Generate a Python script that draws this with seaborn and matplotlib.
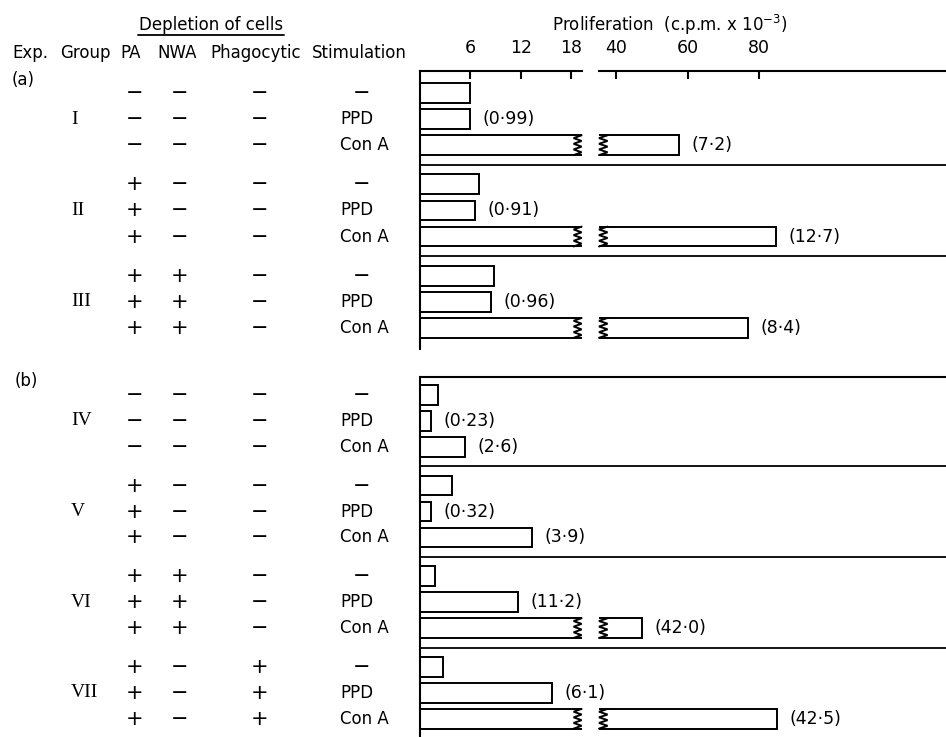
import numpy as np
import pandas as pd
import seaborn as sns
import matplotlib
matplotlib.use("Agg")
import matplotlib.pyplot as plt
from matplotlib import transforms

# ---------------- data ----------------
groups_a = ["I", "II", "III"]
groups_b = ["IV", "V", "VI", "VII"]
stimulation = ["\u2212", "PPD", "Con A"]

depl_pa = {"I": "\u2212", "II": "+", "III": "+", "IV": "\u2212", "V": "+", "VI": "+", "VII": "+"}
depl_nwa = {"I": "\u2212", "II": "\u2212", "III": "+", "IV": "\u2212", "V": "\u2212", "VI": "+", "VII": "\u2212"}
depl_phag = {"I": "\u2212", "II": "\u2212", "III": "\u2212", "IV": "\u2212", "V": "\u2212", "VI": "\u2212", "VII": "+"}

# proliferation (c.p.m. x 10^-3) for stimulation: none, PPD, Con A
prolif = {
    "I": [6.0, 6.0, 57.6],
    "II": [7.0, 6.6, 84.7],
    "III": [8.8, 8.4, 76.8],
    "IV": [2.1, 1.3, 5.4],
    "V": [3.8, 1.3, 13.3],
    "VI": [1.8, 11.7, 47.2],
    "VII": [2.7, 15.7, 85.0],
}
# stimulation indices
si_ppd = {"I": "0\u00b799", "II": "0\u00b791", "III": "0\u00b796", "IV": "0\u00b723",
          "V": "0\u00b732", "VI": "11\u00b72", "VII": "6\u00b71"}
si_cona = {"I": "7\u00b72", "II": "12\u00b77", "III": "8\u00b74", "IV": "2\u00b76",
           "V": "3\u00b79", "VI": "42\u00b70", "VII": "42\u00b75"}

ticks_left = [6, 12, 18]
ticks_right = [40, 60, 80]

# ---------------- layout ----------------
W, H = 946, 737
GROUP_STEP = 3.5
BREAK_LO = 19.3
BREAK_HI = 35.1
XMAX_R = 132.4
BAR_W = 0.76

sns.set_style("white")
plt.rcParams["font.family"] = ["DejaVu Sans"]
plt.rcParams["axes.linewidth"] = 1.5
plt.rcParams["text.color"] = "black"
plt.rcParams["axes.labelcolor"] = "black"
plt.rcParams["xtick.color"] = "black"
plt.rcParams["axes.edgecolor"] = "black"

fig = plt.figure(figsize=(W / 100, H / 100), dpi=100)


def fx(px):
    return px / W


def fy(py):
    return 1 - py / H


def make_panel(top_px, bot_px):
    axl = fig.add_axes([fx(420), fy(bot_px), fx(582) - fx(420), (bot_px - top_px) / H])
    axr = fig.add_axes([fx(599), fy(bot_px), fx(946) - fx(599), (bot_px - top_px) / H])
    for a in (axl, axr):
        a.set_facecolor("none")
    return axl, axr


def build_df(groups):
    rows = []
    for gi, g in enumerate(groups):
        for ri, s in enumerate(stimulation):
            rows.append({"group": g, "stim": s, "pos": gi * GROUP_STEP + ri,
                         "value": prolif[g][ri]})
    return pd.DataFrame(rows)


def zigzag(ax, x0, x1, yc, h):
    n = 7
    ys = np.linspace(yc - h / 2, yc + h / 2, n + 1)
    xs = np.where(np.arange(n + 1) % 2 == 0, x1, x0)
    ax.plot(xs, ys, color="black", lw=1.4, clip_on=False, solid_joinstyle="miter")


def draw_panel(groups, top_px, bot_px, ylim, with_ticks):
    axl, axr = make_panel(top_px, bot_px)
    df = build_df(groups)
    for ax in (axl, axr):
        sns.barplot(data=df, x="value", y="pos", orient="h", native_scale=True,
                    color="white", saturation=1, edgecolor="black", linewidth=1.4,
                    width=BAR_W, errorbar=None, ax=ax)
        ax.set_ylim(*ylim)
        ax.set_xlabel("")
        ax.set_ylabel("")
        ax.set_yticks([])
        for sp in ("right", "bottom"):
            ax.spines[sp].set_visible(False)
    axl.set_xlim(0, BREAK_LO)
    axr.set_xlim(BREAK_HI, XMAX_R)
    axr.spines["left"].set_visible(False)
    span = (946 - 420) / 162
    if with_ticks:
        for ax, tk in ((axl, ticks_left), (axr, ticks_right)):
            ax.xaxis.tick_top()
            ax.set_xticks(tk)
            ax.set_xticklabels([str(t) for t in tk])
            ax.tick_params(axis="x", direction="in", length=6, width=1.5, pad=10,
                           labelsize=12.5, colors="black")
    else:
        axl.set_xticks([])
        axr.set_xticks([])
        axl.axhline(ylim[1], xmin=0, xmax=span, color="black", lw=1.5, clip_on=False)
        axr.spines["top"].set_visible(False)
        axl.spines["top"].set_visible(False)

    # separators between groups
    for gi in range(len(groups) - 1):
        ysep = gi * GROUP_STEP + 2 + (GROUP_STEP - 2) / 2
        axl.axhline(ysep, xmin=0, xmax=span, color="black", lw=1.3, clip_on=False)

    # broken bars & annotations
    for _, r in df.iterrows():
        v, p = r["value"], r["pos"]
        if v > BREAK_LO:
            zigzag(axl, 18.3, 19.25, p, BAR_W)
            zigzag(axr, BREAK_HI, BREAK_HI + 2.4, p, BAR_W)
            target = axr
        else:
            target = axl
        if r["stim"] == "PPD":
            lab = si_ppd[r["group"]]
        elif r["stim"] == "Con A":
            lab = si_cona[r["group"]]
        else:
            lab = None
        if lab:
            target.annotate(f"({lab})", xy=(v, p), xytext=(9, 0), textcoords="offset points",
                            ha="left", va="center", fontsize=12.5, color="black",
                            annotation_clip=False)

    # table on the left
    tr = transforms.blended_transform_factory(fig.transFigure, axl.transData)
    fs_sym = 15
    for gi, g in enumerate(groups):
        for ri, s in enumerate(stimulation):
            p = gi * GROUP_STEP + ri
            fig.text(fx(135), p, depl_pa[g], transform=tr, ha="center", va="center", fontsize=fs_sym)
            fig.text(fx(180), p, depl_nwa[g], transform=tr, ha="center", va="center", fontsize=fs_sym)
            fig.text(fx(260), p, depl_phag[g], transform=tr, ha="center", va="center", fontsize=fs_sym)
            if s == "\u2212":
                fig.text(fx(362), p, s, transform=tr, ha="center", va="center", fontsize=fs_sym)
            else:
                fig.text(fx(340), p, s, transform=tr, ha="left", va="center", fontsize=12)
        fig.text(fx(71), gi * GROUP_STEP + 1, g, transform=tr, ha="left", va="center",
                 fontsize=14, family="Liberation Serif")
    return axl, axr


draw_panel(groups_a, 71, 349, (256 / 26.1, -22 / 26.1), True)
draw_panel(groups_b, 377, 737, (342 / 25.9, -18 / 25.9), False)

# headers
fig.text(fx(211), fy(25), "Depletion of cells", ha="center", va="center", fontsize=12)
fig.add_artist(plt.Line2D([fx(138), fx(284)], [fy(35), fy(35)], color="black", lw=1.3))
hdr_y = fy(53)
fig.text(fx(12), hdr_y, "Exp.", ha="left", va="center", fontsize=12)
fig.text(fx(60), hdr_y, "Group", ha="left", va="center", fontsize=12)
fig.text(fx(131), hdr_y, "PA", ha="center", va="center", fontsize=12)
fig.text(fx(177), hdr_y, "NWA", ha="center", va="center", fontsize=12)
fig.text(fx(256), hdr_y, "Phagocytic", ha="center", va="center", fontsize=12)
fig.text(fx(359), hdr_y, "Stimulation", ha="center", va="center", fontsize=12)
fig.text(fx(12), fy(80), "(a)", ha="left", va="center", fontsize=12)
fig.text(fx(15), fy(381), "(b)", ha="left", va="center", fontsize=12)
fig.text(fx(670), fy(25), r"Proliferation  (c.p.m. x 10$^{-3}$)", ha="center", va="center", fontsize=12)

fig.savefig("out.png", dpi=100, facecolor="white")
